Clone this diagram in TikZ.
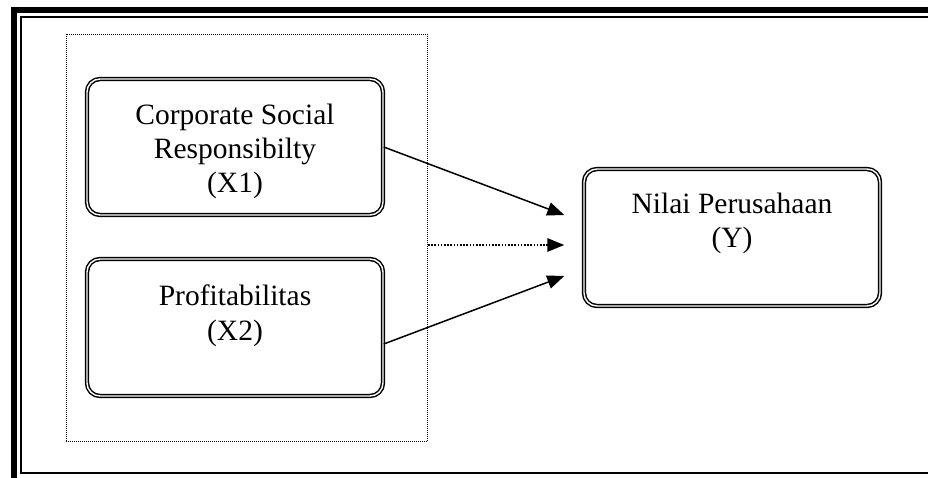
\documentclass[tikz,border=0pt]{standalone}
\usepackage{fontspec}
\setmainfont{Liberation Serif}
\usetikzlibrary{arrows.meta,calc}
\begin{document}
\begin{tikzpicture}[x=1pt,y=-1pt,
  dblbox/.style={draw,rectangle,rounded corners=13pt,line width=1.5pt,double=white,double distance=1.4pt,minimum width=296pt,inner sep=0pt},
  lbl/.style={anchor=base,inner sep=0pt,font=\fontsize{29.5}{34}\selectfont},
  dotline/.style={line width=1pt,dash pattern=on 1pt off 1pt},
  arr/.style={line width=1.5pt,-{Triangle[length=17pt,width=13.5pt]}}]
\useasboundingbox (0,0) rectangle (928,477);
\fill[white] (0,0) rectangle (928,477);
% outer page frame (thick-thin)
\draw[line width=6pt] (14,10) rectangle (942,482);
\draw[line width=1.5pt] (21,17) rectangle (935,473);
% dotted group box
\node[draw,dotline,rectangle,inner sep=0pt,minimum width=361.5pt,minimum height=407pt] (grp) at (246.75,237.5) {};
% boxes
\node[dblbox,minimum height=136pt] (x1) at (235,147) {};
\node[dblbox,minimum height=137pt] (x2) at (235,327.5) {};
\node[dblbox,minimum height=137pt] (y) at (732,237.5) {};
% labels
\node[lbl] (x1a) at (235,124) {Corporate Social};
\node[lbl] (x1b) at (235,158) {Responsibilty};
\node[lbl] (x1c) at (235,192) {(X1)};
\node[lbl] (x2a) at (235,305) {Profitabilitas};
\node[lbl] (x2b) at (235,340) {(X2)};
\node[lbl] (ya) at (732,213) {Nilai Perusahaan};
\node[lbl] (yb) at (732,247) {(Y)};
% connector ends
\coordinate (s1) at (x1.east);
\coordinate (s2) at ($(x2.east)+(0,16.5)$);
\coordinate (s3) at (grp.east |- 0,245);
\coordinate (e1) at ($(y.west)+(-19,-22.5)$);
\coordinate (e2) at ($(y.west)+(-19,7.5)$);
\coordinate (e3) at ($(y.west)+(-19,38.5)$);
\draw[arr] (s1) -- (e1);
\draw[arr] (s2) -- (e3);
\draw[arr,dash pattern=on 1.5pt off 1.7pt] (s3) -- (e2);
\end{tikzpicture}
\end{document}
